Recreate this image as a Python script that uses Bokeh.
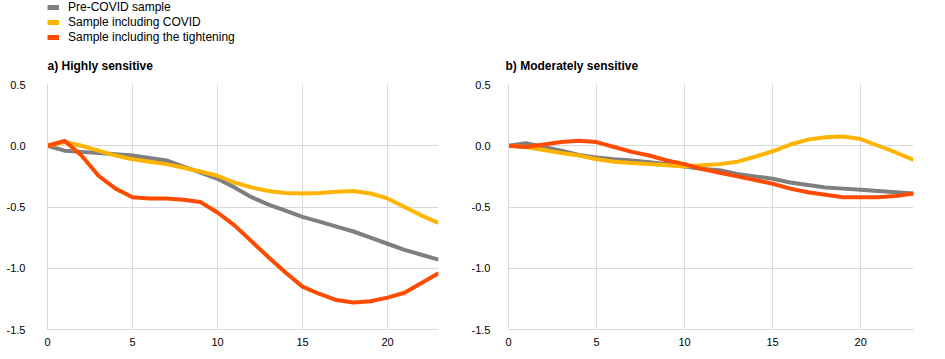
from bokeh.plotting import figure
from bokeh.layouts import row, column
from bokeh.models import Legend, LegendItem, FixedTicker, PrintfTickFormatter, Range1d
from bokeh.embed import file_html
from bokeh.resources import INLINE

x = list(range(24))

pre_a = [0, -0.04, -0.05, -0.06, -0.07, -0.08, -0.10, -0.12, -0.17, -0.22, -0.27, -0.34, -0.42,
         -0.48, -0.53, -0.58, -0.62, -0.66, -0.70, -0.75, -0.80, -0.85, -0.89, -0.93]
covid_a = [0, 0.03, 0.0, -0.04, -0.08, -0.11, -0.13, -0.15, -0.18, -0.21, -0.245, -0.30, -0.34,
           -0.37, -0.385, -0.39, -0.385, -0.375, -0.37, -0.39, -0.43, -0.50, -0.57, -0.63]
tight_a = [0, 0.04, -0.08, -0.245, -0.35, -0.42, -0.43, -0.43, -0.44, -0.46, -0.545, -0.65, -0.78,
           -0.91, -1.035, -1.15, -1.21, -1.26, -1.28, -1.27, -1.24, -1.20, -1.12, -1.04]

pre_b = [0, 0.02, -0.01, -0.04, -0.075, -0.095, -0.11, -0.12, -0.135, -0.15, -0.17, -0.19, -0.20,
         -0.23, -0.25, -0.27, -0.30, -0.32, -0.34, -0.35, -0.36, -0.37, -0.38, -0.39]
covid_b = [0, -0.01, -0.035, -0.06, -0.08, -0.11, -0.13, -0.14, -0.15, -0.16, -0.17, -0.16, -0.15,
           -0.13, -0.09, -0.045, 0.01, 0.05, 0.07, 0.075, 0.055, 0.0, -0.055, -0.115]
tight_b = [0, -0.01, 0.01, 0.03, 0.04, 0.03, -0.01, -0.05, -0.08, -0.12, -0.15, -0.19, -0.22,
           -0.25, -0.28, -0.31, -0.35, -0.38, -0.40, -0.42, -0.42, -0.42, -0.41, -0.39]

series_names = ["Pre-COVID sample", "Sample including COVID", "Sample including the tightening"]
colors = ["#7f7f7f", "#ffb400", "#ff4b00"]
titles = ["a) Highly  sensitive", "b) Moderately sensitive"]
x_ticks = [0, 5, 10, 15, 20]
y_ticks = [0.5, 0.0, -0.5, -1.0, -1.5]

FONT = "Liberation Sans"
GRID = "#d9d9d9"


def make_panel(title, data, width, left, right, ystand, title_offset):
    p = figure(width=width, height=307, output_backend="svg", toolbar_location=None,
               x_range=Range1d(0, 23), y_range=Range1d(-1.5, 0.5),
               min_border_left=left, min_border_right=right, min_border_top=40,
               min_border_bottom=22, title=title)
    p.outline_line_color = None
    p.title.text_font = FONT
    p.title.text_font_size = "12px"
    p.title.text_font_style = "bold"
    p.title.text_color = "#000000"
    p.title.align = "left"
    p.title.offset = title_offset
    p.title.standoff = 23
    p.xaxis.ticker = FixedTicker(ticks=x_ticks)
    p.yaxis.ticker = FixedTicker(ticks=y_ticks)
    p.yaxis.formatter = PrintfTickFormatter(format="%.1f")
    for ax in (p.xaxis, p.yaxis):
        ax.axis_line_color = GRID
        ax.major_tick_line_color = None
        ax.minor_tick_line_color = None
        ax.major_tick_out = 0
        ax.major_label_text_font = FONT
        ax.major_label_text_font_size = "11px"
        ax.major_label_text_color = "#000000"
    p.xaxis.major_label_standoff = 8
    p.yaxis.major_label_standoff = ystand
    p.xgrid.grid_line_color = GRID
    p.ygrid.grid_line_color = GRID
    rs = []
    for ys, c in zip(data, colors):
        rs.append(p.line(x, ys, line_color=c, line_width=4, line_join="round"))
    return p, rs


pa, ra = make_panel(titles[0], [pre_a, covid_a, tight_a], 468, 47, 30, 22, 0)
pb, rb = make_panel(titles[1], [pre_b, covid_b, tight_b], 469, 40, 24, 18, -3)

# legend strip on top of the panels
pl = figure(width=468, height=44, output_backend="svg", toolbar_location=None,
            x_range=Range1d(0, 23), y_range=Range1d(-1.5, 0.5),
            x_axis_type=None, y_axis_type=None,
            min_border_left=47, min_border_right=0, min_border_top=0, min_border_bottom=0)
pl.outline_line_color = None
pl.xgrid.visible = False
pl.ygrid.visible = False
lr = []
for ys, c in zip([pre_a, covid_a, tight_a], colors):
    lr.append(pl.line(x, ys, line_color=c, line_width=5, visible=False))

legend = Legend(items=[LegendItem(label=n, renderers=[r]) for n, r in zip(series_names, lr)],
                location="top_left", orientation="vertical",
                label_text_font=FONT, label_text_font_size="12px", label_text_color="#000000",
                glyph_width=12, glyph_height=10, label_height=10, label_standoff=9,
                spacing=1, padding=0, margin=0,
                border_line_alpha=0, background_fill_alpha=0)
pl.add_layout(legend, "center")

layout = column(pl, row(pa, pb))
open("out.html", "w").write(file_html(layout, INLINE))
